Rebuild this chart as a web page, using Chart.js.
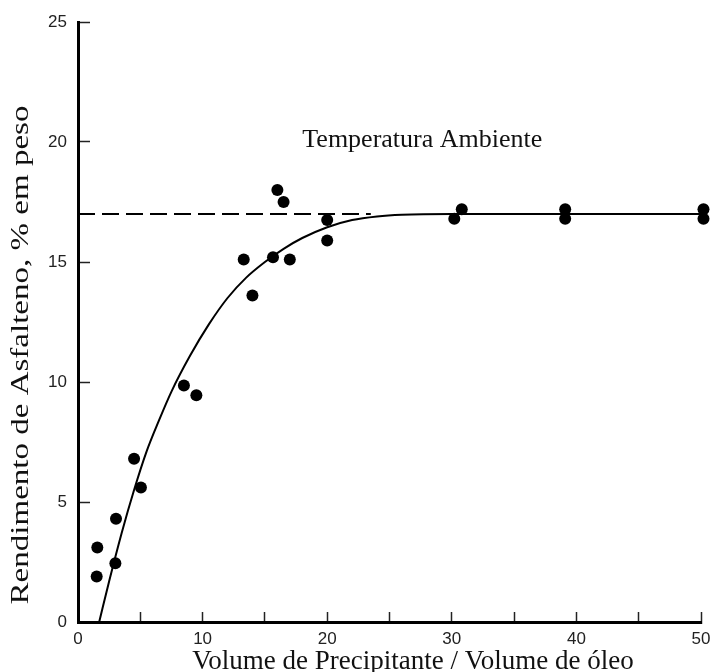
<!DOCTYPE html>
<html>
<head>
<meta charset="utf-8">
<script src="https://cdn.jsdelivr.net/npm/chart.js@4.4.1/dist/chart.umd.min.js"></script>
<style>
  html, body { margin: 0; padding: 0; background: #fff; }
  canvas { display: block; }
</style>
</head>
<body>
<canvas id="chart" width="713" height="672"></canvas>
<script>
// measured points (x = precipitant/oil volume ratio, y = yield %)
const dotX = [1.55, 1.5, 3.05, 3.0, 4.5, 5.05, 8.5, 9.5, 13.3, 14.0, 15.65, 16.0, 16.5, 17.0, 20.0, 20.0, 30.2, 30.8, 39.1, 39.1, 50.2, 50.2];
const dotY = [3.1, 1.9, 4.3, 2.45, 6.8, 5.6, 9.85, 9.45, 15.1, 13.6, 15.2, 18.0, 17.5, 15.1, 16.75, 15.9, 16.8, 17.2, 17.2, 16.8, 17.2, 16.8];

// fitted curve
const curveX = [1.7, 2.5, 3.5, 4.5, 5.5, 6.5, 7.5, 9, 10.5, 12, 13.5, 15, 16.5, 18, 20, 22, 24, 26, 30, 40, 50];
const curveY = [0, 1.7, 3.7, 5.5, 7.1, 8.4, 9.6, 11.1, 12.4, 13.5, 14.35, 15.0, 15.55, 16.0, 16.45, 16.75, 16.9, 16.97, 17.0, 17.0, 17.0];

// dashed plateau line
const plateauX = [0, 23.5];
const plateauY = [17, 17];

const xLabelled = [0, 10, 20, 30, 40, 50];
const yLabelled = [0, 5, 10, 15, 20, 25];

const noteText = 'Temperatura Ambiente';
const xTitle = 'Volume de Precipitante / Volume de óleo';
const yTitle = 'Rendimento de Asfalteno, % em peso';

const serif = "'Liberation Serif', 'Times New Roman', serif";
const sans = "'Liberation Sans', Arial, Helvetica, sans-serif";

const pairs = (xs, ys) => xs.map((x, i) => ({ x: x, y: ys[i] }));

// texts drawn straight on the canvas (the y title is stretched like in the scan)
const figureText = {
  id: 'figureText',
  afterDraw(chart) {
    const { ctx } = chart;
    const x = chart.scales.x, y = chart.scales.y;
    ctx.save();
    ctx.fillStyle = '#111';
    ctx.font = '26px ' + serif;
    ctx.textAlign = 'left';
    ctx.textBaseline = 'alphabetic';
    ctx.fillText(noteText, x.getPixelForValue(18), y.getPixelForValue(19.8));

    ctx.font = '27px ' + serif;
    ctx.textAlign = 'center';
    ctx.fillText(xTitle, 413, 669);

    ctx.translate(21, 355);
    ctx.rotate(-Math.PI / 2);
    ctx.scale(1.27, 1);
    ctx.font = '26px ' + serif;
    ctx.textBaseline = 'middle';
    ctx.fillText(yTitle, 0, 0);
    ctx.restore();
  }
};

new Chart(document.getElementById('chart'), {
  type: 'scatter',
  data: {
    datasets: [
      {
        data: pairs(dotX, dotY),
        pointRadius: 6,
        pointHoverRadius: 6,
        backgroundColor: '#000',
        borderWidth: 0,
        clip: false,
        order: 0
      },
      {
        type: 'line',
        data: pairs(curveX, curveY),
        borderColor: '#000',
        borderWidth: 2,
        pointRadius: 0,
        cubicInterpolationMode: 'monotone',
        fill: false,
        clip: false,
        order: 1
      },
      {
        type: 'line',
        data: pairs(plateauX, plateauY),
        borderColor: '#000',
        borderWidth: 2,
        borderDash: [17, 7],
        pointRadius: 0,
        fill: false,
        order: 2
      }
    ]
  },
  options: {
    responsive: false,
    animation: false,
    layout: { padding: { top: 22, right: 12, left: 0, bottom: 0 } },
    plugins: {
      legend: { display: false },
      tooltip: { enabled: false }
    },
    scales: {
      x: {
        type: 'linear',
        min: 0,
        max: 50,
        afterFit: (s) => { s.height = 50; s.paddingLeft = 0; s.paddingRight = 0; },
        border: { display: true, color: '#000', width: 3 },
        grid: { drawOnChartArea: false, drawTicks: true, tickLength: -10, tickWidth: 1.5, tickColor: '#222' },
        ticks: {
          stepSize: 5,
          autoSkip: false,
          maxRotation: 0,
          padding: 17,
          color: '#222',
          font: { family: sans, size: 17 },
          callback: (v) => xLabelled.includes(v) ? String(v) : ''
        }
      },
      y: {
        type: 'linear',
        min: 0,
        max: 25,
        afterFit: (s) => { s.width = 78; s.paddingTop = 0; s.paddingBottom = 0; },
        border: { display: true, color: '#000', width: 3 },
        grid: { drawOnChartArea: false, drawTicks: true, tickLength: -12, tickWidth: 1.5, tickColor: '#222' },
        ticks: {
          stepSize: 5,
          padding: 23,
          color: '#222',
          font: { family: sans, size: 17 },
          callback: (v) => yLabelled.includes(v) ? String(v) : ''
        }
      }
    }
  },
  plugins: [figureText]
});
</script>
</body>
</html>
